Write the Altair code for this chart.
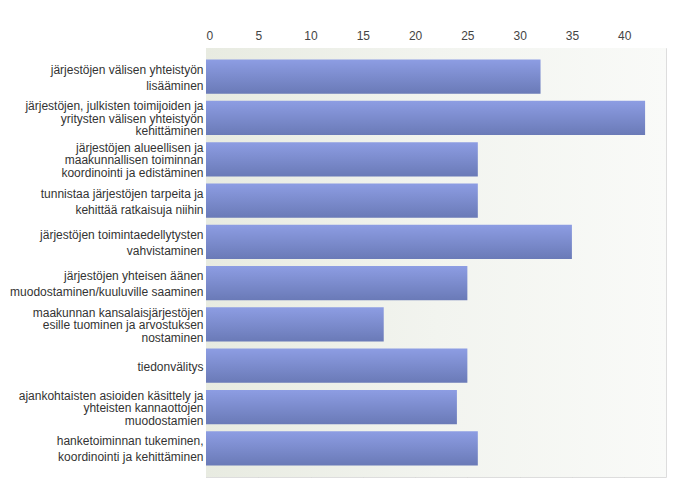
import altair as alt
import pandas as pd

categories = [
    "järjestöjen välisen yhteistyön|lisääminen",
    "järjestöjen, julkisten toimijoiden ja|yritysten välisen yhteistyön|kehittäminen",
    "järjestöjen alueellisen ja|maakunnallisen toiminnan|koordinointi ja edistäminen",
    "tunnistaa järjestöjen tarpeita ja|kehittää ratkaisuja niihin",
    "järjestöjen toimintaedellytysten|vahvistaminen",
    "järjestöjen yhteisen äänen|muodostaminen/kuuluville saaminen",
    "maakunnan kansalaisjärjestöjen|esille tuominen ja arvostuksen|nostaminen",
    "tiedonvälitys",
    "ajankohtaisten asioiden käsittely ja|yhteisten kannaottojen|muodostamien",
    "hanketoiminnan tukeminen,|koordinointi ja kehittäminen",
]
values = [32, 42, 26, 26, 35, 25, 17, 25, 24, 26]
tick_values = [0, 5, 10, 15, 20, 25, 30, 35, 40]
x_domain = [0, 44]

df = pd.DataFrame({"category": categories, "value": values})

bar_gradient = alt.Gradient(
    gradient="linear",
    stops=[
        alt.GradientStop(color="#8d9de3", offset=0),
        alt.GradientStop(color="#6a7ab7", offset=1),
    ],
    x1=0, x2=0, y1=0, y2=1,
)

bg_gradient = alt.Gradient(
    gradient="linear",
    stops=[
        alt.GradientStop(color="#e8ebe1", offset=0),
        alt.GradientStop(color="#f2f4ef", offset=0.5),
        alt.GradientStop(color="#f9faf8", offset=1),
    ],
    x1=0, x2=1, y1=0, y2=0,
)

x_scale = alt.Scale(domain=x_domain, nice=False)

background = (
    alt.Chart(pd.DataFrame({"start": [x_domain[0]], "end": [x_domain[1]]}))
    .mark_rect(color=bg_gradient)
    .encode(
        x=alt.X("start:Q", scale=x_scale),
        x2="end:Q",
        y=alt.value(0),
        y2=alt.value(429),
    )
)

n_lines = "length(split(datum.value, '|'))"
line_h = f"({n_lines} > 2 ? 12.5 : 16)"

bars = (
    alt.Chart(df)
    .mark_bar(color=bar_gradient)
    .encode(
        x=alt.X(
            "value:Q",
            scale=x_scale,
            axis=alt.Axis(
                orient="top",
                values=tick_values,
                title=None,
                ticks=False,
                domain=False,
                labelPadding=6,
                labelFontSize=12,
                labelFont="Liberation Sans",
                labelColor="#444444",
                grid=True,
                gridColor="#d2d4d0",
            ),
        ),
        y=alt.Y(
            "category:N",
            sort=None,
            scale=alt.Scale(paddingInner=0.17, paddingOuter=0.28),
            axis=alt.Axis(
                title=None,
                ticks=False,
                domain=False,
                labelExpr="split(datum.label, '|')",
                labelAlign="right",
                labelBaseline="middle",
                labelLineHeight={"expr": line_h},
                labelOffset={"expr": f"-({n_lines} - 1) * {line_h} / 2 + 1"},
                labelPadding=3,
                labelFontSize=12,
                labelFont="Liberation Sans",
                labelColor="#333333",
                labelLimit=0,
            ),
        ),
    )
)

chart = (
    alt.layer(background, bars)
    .properties(
        width=460,
        height=429,
        autosize=alt.AutoSizeParams(type="none"),
        padding={"left": 198, "top": 40, "right": 14, "bottom": 16},
    )
    .configure_view(stroke="#888888", strokeWidth=1)
    .configure(background="#ffffff")
)

chart.save("out.html", embed_options={"renderer": "svg", "actions": False})
